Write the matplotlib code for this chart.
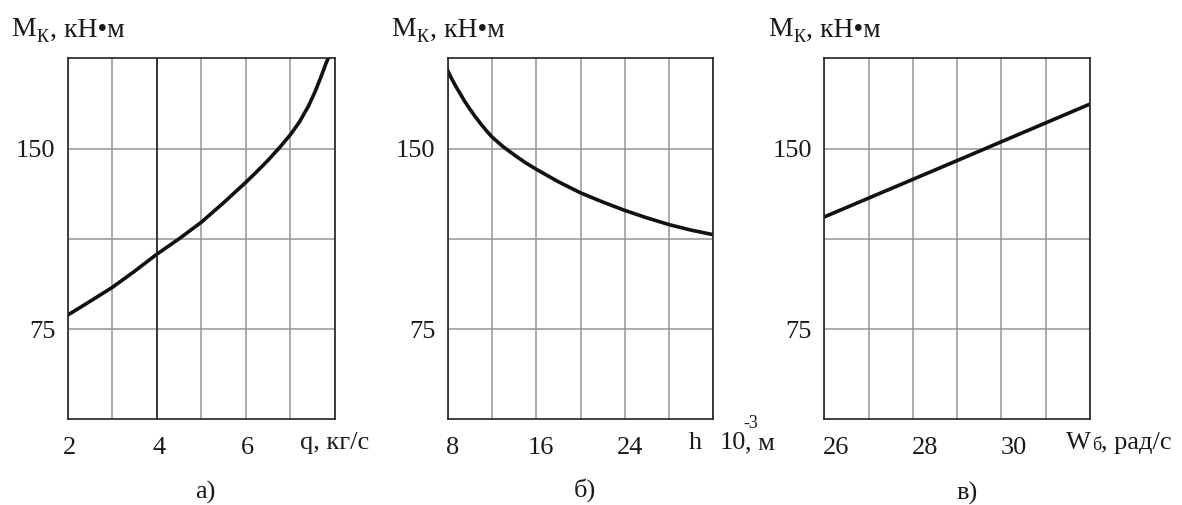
import numpy as np
import matplotlib.pyplot as plt
from matplotlib.transforms import ScaledTranslation

plt.rcParams['font.family'] = ['Liberation Serif', 'DejaVu Serif']

# а) расход q, кг/с
q = [2.0, 2.5, 3.0, 3.5, 4.0, 4.5, 5.0, 5.5, 6.0, 6.25, 6.5, 6.75, 7.0, 7.2, 7.4, 7.55, 7.7, 7.8, 7.86]
mk_q = [80.8, 86.5, 92.3, 99.0, 106.1, 112.5, 119.4, 127.5, 136.0, 140.5, 145.2, 150.3, 155.8, 161.0, 167.5, 173.5, 180.5, 185.5, 188.0]

# б) h, 10^-3 м
h = [8, 8.25, 8.5, 8.75, 9, 9.5, 10, 10.5, 11, 11.5, 12, 13, 14, 15, 16, 18, 20, 22, 24, 26, 28, 30, 32]
mk_h = [182.5, 180.0, 177.8, 175.7, 173.8, 169.9, 166.4, 163.2, 160.2, 157.4, 154.8, 150.8, 147.4, 144.2, 141.4,
        136.2, 131.6, 127.8, 124.3, 121.2, 118.4, 116.1, 114.2]

# в) W, рад/с
w = [26, 29, 32]
mk_w = [121.6, 145.0, 168.5]

W, H = 1182, 505
fig = plt.figure(figsize=(W / 100, H / 100), dpi=100)
fig.patch.set_facecolor('white')

def fx(px):
    return px / W

def fy(py):
    return 1 - py / H

top, bottom = 58.3, 419.3

def add_ax(left, right):
    return fig.add_axes([fx(left), fy(bottom), (right - left) / W, (bottom - top) / H])

ax_a = add_ax(67.7, 335.0)
ax_b = add_ax(447.7, 713.3)
ax_c = add_ax(824.3, 1090.0)

panels = [
    (ax_a, q, mk_q, (2, 8), np.arange(2, 9, 1), [2, 4, 6], 2),
    (ax_b, h, mk_h, (8, 32), np.arange(8, 33, 4), [8, 16, 24], 5),
    (ax_c, w, mk_w, (26, 32), np.arange(26, 33, 1), [26, 28, 30], 12),
]

for ax, x, y, xlim, xt, xlab, dx in panels:
    ax.set_xlim(*xlim)
    ax.set_ylim(37.5, 187.5)
    ax.set_xticks(xt)
    ax.set_xticklabels([str(v) if v in xlab else '' for v in xt])
    ax.set_yticks([75, 112.5, 150])
    ax.set_yticklabels(['75', '', '150'])
    ax.tick_params(axis='both', length=0, labelsize=19, colors='#1a1a1a')
    ax.tick_params(axis='x', pad=13)
    ax.tick_params(axis='y', pad=9)
    ax.grid(True, color='#949494', lw=1.1)
    for s in ax.spines.values():
        s.set_linewidth(1.2)
        s.set_color('#222222')
    for lab in ax.get_xticklabels():
        lab.set_transform(lab.get_transform() + ScaledTranslation(dx / 100, 0, fig.dpi_scale_trans))
    ax.plot(x, y, color='#111111', lw=2.6, solid_joinstyle='round')

# тёмная линия q = 4
ax_a.axvline(4, color='#222222', lw=1.2)

# подписи осей Y
for left in [67.7, 447.7, 824.3]:
    x0 = left - 56
    fig.text(fx(x0), fy(30), 'M', fontsize=20, va='center', ha='left', color='#1a1a1a')
    fig.text(fx(x0 + 25), fy(38), 'К', fontsize=13, va='center', ha='left', color='#1a1a1a')
    fig.text(fx(x0 + 38), fy(30), ', кН•м', fontsize=20, va='center', ha='left', color='#1a1a1a')

# подписи осей X
fig.text(fx(300), fy(443), 'q, кг/с', fontsize=19, va='center', ha='left', color='#1a1a1a')
fig.text(fx(689), fy(443), 'h', fontsize=19, va='center', ha='left', color='#1a1a1a')
fig.text(fx(720), fy(443), '10', fontsize=19, va='center', ha='left', color='#1a1a1a')
fig.text(fx(743), fy(424), '-3', fontsize=13, va='center', ha='left', color='#1a1a1a')
fig.text(fx(745), fy(443), ', м', fontsize=19, va='center', ha='left', color='#1a1a1a')
fig.text(fx(1066), fy(443), 'W', fontsize=19, va='center', ha='left', color='#1a1a1a')
fig.text(fx(1092), fy(446), 'б', fontsize=13, va='center', ha='left', color='#1a1a1a')
fig.text(fx(1101), fy(443), ', рад/с', fontsize=19, va='center', ha='left', color='#1a1a1a')

# обозначения панелей
fig.text(fx(205), fy(492), 'а)', fontsize=19, va='center', ha='center', color='#1a1a1a')
fig.text(fx(585), fy(490), 'б)', fontsize=19, va='center', ha='center', color='#1a1a1a')
fig.text(fx(967), fy(493), 'в)', fontsize=19, va='center', ha='center', color='#1a1a1a')

fig.savefig('out.png', dpi=100)
